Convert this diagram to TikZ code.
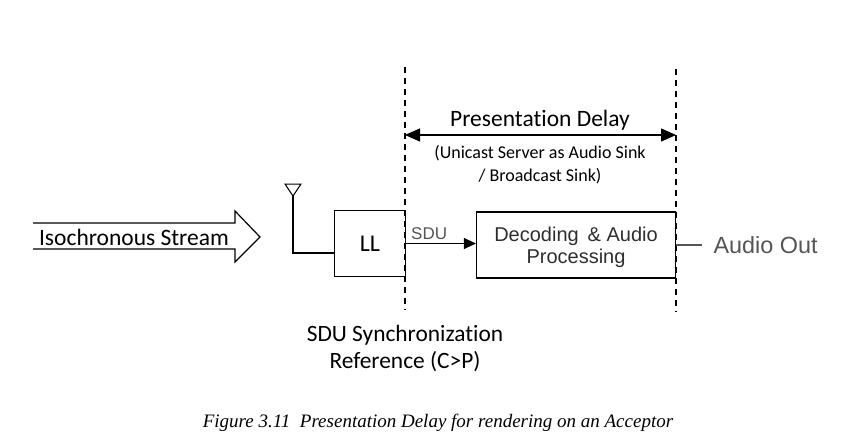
\documentclass[tikz,border=0pt]{standalone}
\usepackage{fontspec}
\setmainfont{Carlito}[Ligatures=CommonOff]
\newfontfamily\arialfont{Liberation Sans}
\newfontfamily\capfont{Liberation Serif}
\usetikzlibrary{arrows.meta}

\definecolor{txtgray}{HTML}{2E2E2E}
\definecolor{outgray}{HTML}{555555}

\tikzset{
  blockbox/.style={draw, line width=1.2pt, inner sep=0pt},
  bound/.style={line width=1.3pt, dash pattern=on 6pt off 5pt},
  lbl/.style={inner sep=0pt, align=center}
}

\begin{document}
\begin{tikzpicture}[x=1pt, y=-1pt, line width=1.2pt]
        \useasboundingbox (0,0) rectangle (851,444);
        % boundaries of the delay
        \coordinate (lt) at (405,67);
        \coordinate (lb) at (405,310);
        \coordinate (rt) at (676,69);
        \coordinate (rb) at (676,312);
        \draw[bound] (lt) -- (lb);
        \draw[bound, line width=2pt] (rt) -- (rb);
        \draw[{Triangle[length=15pt,width=13pt]}-{Triangle[length=15pt,width=13pt]}] (lt |- 0,135) -- (rt |- 0,135);
        \node[lbl, font=\fontsize{23.5}{26}\selectfont] (pd) at (540,120) {Presentation Delay};
        \node[lbl, font=\fontsize{18}{23}\selectfont] (pdsub) at (540,165) {(Unicast Server as Audio Sink\\ / Broadcast Sink)};
        % blocks
        \node[blockbox, minimum width=71pt, minimum height=66pt, font=\fontsize{24}{24}\selectfont] (ll) at (370,243.5) {LL};
        \node[blockbox, minimum width=199pt, minimum height=66pt] (dec) at (576,245) {};
        \node[lbl, text=txtgray, font=\arialfont\fontsize{20}{22.5}\selectfont] (dectext) at ([yshift=-2.5pt]dec.center) {Decoding \,\& Audio\\Processing};
        \draw[-{Triangle[length=12pt,width=11pt]}] (ll.east) -- (ll.east -| dec.west) node[pos=0.33, above=2pt, text=outgray, font=\arialfont\fontsize{17}{18}\selectfont, inner sep=1pt] (sdu) {SDU};
        \node[lbl, anchor=west, text=outgray, font=\arialfont\fontsize{23.4}{26}\selectfont] (aout) at (713,245) {Audio Out};
        \draw[outgray] (dec.east |- aout) -- ([xshift=-11pt]aout.west);
        % antenna
        \coordinate (ant) at (293,196);
        \draw[line width=1pt] (ant) -- (285,184) -- (301,184) -- cycle;
        \draw (ant) |- (ll.west |- 0,253);
        % incoming stream
        \draw (33,223) -- (235,223) -- (235,211) -- (260,237) -- (235,262) -- (235,249) -- (33,249);
        \node[lbl, font=\fontsize{23.5}{24}\selectfont] (iso) at (134,237) {Isochronous Stream};
        \node[lbl, font=\fontsize{23.4}{27}\selectfont] (sync) at (405,348.5) {SDU Synchronization\\Reference (C>P)};
        \node[lbl, font=\capfont\itshape\fontsize{19}{20}\selectfont] (cap) at (438,423) {Figure 3.11\ \ Presentation Delay for rendering on an Acceptor};
\end{tikzpicture}
\end{document}
